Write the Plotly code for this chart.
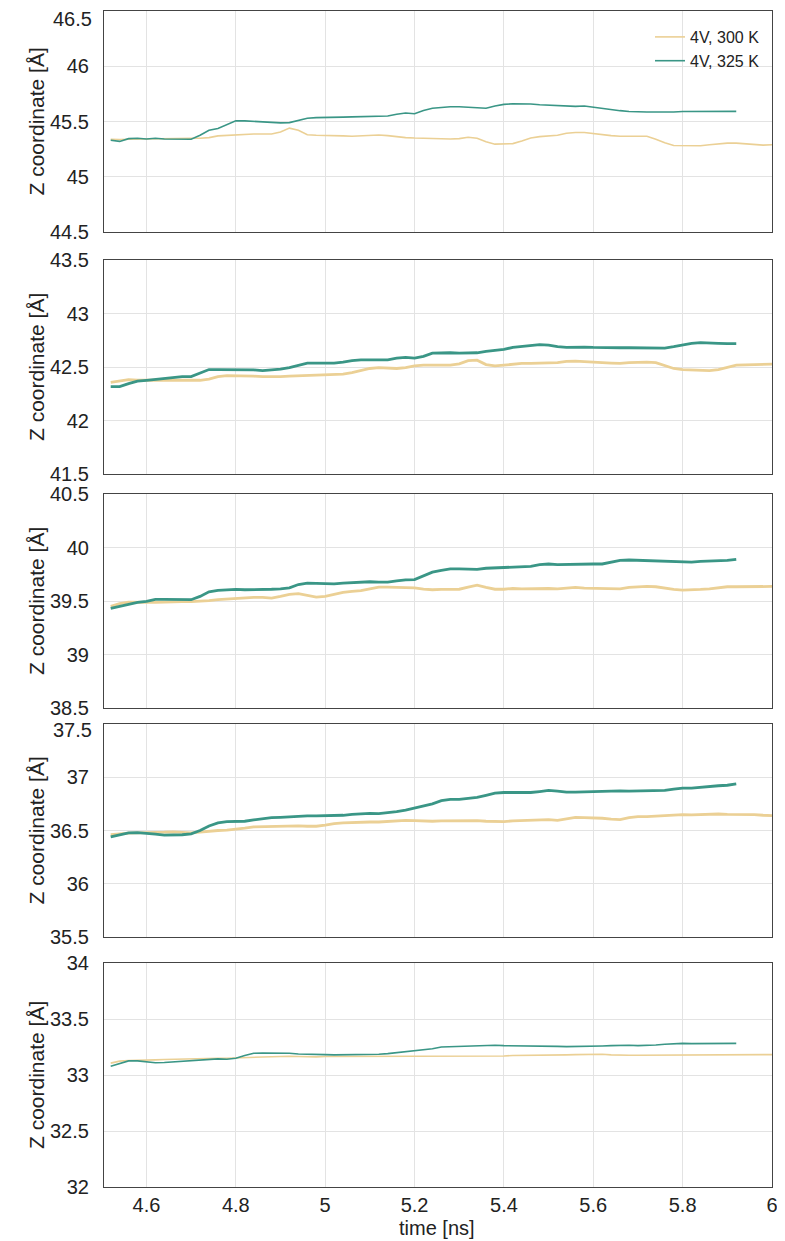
import plotly.graph_objects as go

# ---------------- data ----------------
time_300 = [4.52, 4.54, 4.56, 4.58, 4.60, 4.62, 4.64, 4.66, 4.68, 4.70,
            4.72, 4.74, 4.76, 4.78, 4.80, 4.82, 4.84, 4.86, 4.88, 4.90,
            4.92, 4.94, 4.96, 4.98, 5.00, 5.02, 5.04, 5.06, 5.08, 5.10,
            5.12, 5.14, 5.16, 5.18, 5.20, 5.22, 5.24, 5.26, 5.28, 5.30,
            5.32, 5.34, 5.36, 5.38, 5.40, 5.42, 5.44, 5.46, 5.48, 5.50,
            5.52, 5.54, 5.56, 5.58, 5.60, 5.62, 5.64, 5.66, 5.68, 5.70,
            5.72, 5.74, 5.76, 5.78, 5.80, 5.82, 5.84, 5.86, 5.88, 5.90,
            5.92, 5.94, 5.96, 5.98, 6.00]
time_325 = time_300[:71]

p1_300 = [45.340, 45.336, 45.340, 45.342, 45.340, 45.345, 45.345, 45.348, 45.348, 45.348,
          45.348, 45.354, 45.370, 45.375, 45.380, 45.384, 45.387, 45.387, 45.387, 45.405,
          45.440, 45.420, 45.380, 45.375, 45.375, 45.372, 45.370, 45.366, 45.372, 45.378,
          45.378, 45.372, 45.360, 45.354, 45.350, 45.348, 45.345, 45.342, 45.342, 45.345,
          45.357, 45.348, 45.316, 45.295, 45.295, 45.300, 45.324, 45.350, 45.363, 45.366,
          45.375, 45.393, 45.400, 45.400, 45.390, 45.378, 45.372, 45.366, 45.366, 45.370,
          45.366, 45.340, 45.307, 45.283, 45.283, 45.283, 45.280, 45.290, 45.300, 45.304,
          45.304, 45.298, 45.286, 45.286, 45.290]
p1_325 = [45.330, 45.320, 45.345, 45.348, 45.342, 45.348, 45.342, 45.342, 45.340, 45.340,
          45.375, 45.420, 45.437, 45.470, 45.506, 45.506, 45.500, 45.500, 45.494, 45.488,
          45.490, 45.510, 45.530, 45.535, 45.535, 45.540, 45.540, 45.542, 45.545, 45.550,
          45.550, 45.550, 45.565, 45.577, 45.570, 45.600, 45.620, 45.630, 45.634, 45.634,
          45.630, 45.620, 45.620, 45.640, 45.655, 45.660, 45.660, 45.658, 45.652, 45.649,
          45.643, 45.637, 45.637, 45.640, 45.628, 45.620, 45.610, 45.598, 45.590, 45.586,
          45.586, 45.586, 45.583, 45.586, 45.590, 45.590, 45.590, 45.590, 45.590, 45.592,
          45.592]

p2_300 = [42.357, 42.373, 42.382, 42.376, 42.376, 42.380, 42.380, 42.380, 42.380, 42.376,
          42.376, 42.386, 42.410, 42.420, 42.420, 42.417, 42.414, 42.410, 42.407, 42.410,
          42.414, 42.417, 42.420, 42.420, 42.420, 42.423, 42.433, 42.448, 42.470, 42.486,
          42.495, 42.492, 42.486, 42.495, 42.510, 42.517, 42.517, 42.517, 42.517, 42.530,
          42.560, 42.564, 42.523, 42.510, 42.517, 42.530, 42.533, 42.533, 42.536, 42.536,
          42.540, 42.552, 42.555, 42.550, 42.542, 42.540, 42.536, 42.533, 42.540, 42.542,
          42.545, 42.540, 42.510, 42.486, 42.476, 42.473, 42.470, 42.467, 42.476, 42.498,
          42.517, 42.520, 42.523, 42.527, 42.527]
p2_325 = [42.317, 42.317, 42.345, 42.367, 42.376, 42.386, 42.392, 42.400, 42.410, 42.410,
          42.440, 42.476, 42.476, 42.476, 42.480, 42.476, 42.473, 42.467, 42.470, 42.480,
          42.495, 42.517, 42.536, 42.536, 42.536, 42.536, 42.545, 42.560, 42.567, 42.567,
          42.560, 42.567, 42.583, 42.590, 42.583, 42.600, 42.630, 42.633, 42.633, 42.630,
          42.630, 42.633, 42.646, 42.655, 42.665, 42.683, 42.693, 42.700, 42.710, 42.705,
          42.690, 42.683, 42.686, 42.686, 42.683, 42.680, 42.680, 42.680, 42.680, 42.680,
          42.677, 42.677, 42.677, 42.690, 42.708, 42.720, 42.727, 42.727, 42.720, 42.718,
          42.718]

p3_300 = [39.450, 39.475, 39.490, 39.488, 39.485, 39.488, 39.490, 39.494, 39.494, 39.494,
          39.497, 39.503, 39.512, 39.518, 39.520, 39.527, 39.534, 39.534, 39.527, 39.543,
          39.562, 39.568, 39.550, 39.537, 39.543, 39.562, 39.580, 39.590, 39.596, 39.614,
          39.630, 39.630, 39.630, 39.630, 39.623, 39.610, 39.605, 39.608, 39.608, 39.610,
          39.630, 39.648, 39.627, 39.610, 39.610, 39.617, 39.614, 39.617, 39.620, 39.617,
          39.614, 39.617, 39.627, 39.620, 39.617, 39.614, 39.610, 39.614, 39.627, 39.633,
          39.636, 39.633, 39.620, 39.608, 39.602, 39.602, 39.608, 39.614, 39.627, 39.633,
          39.633, 39.633, 39.633, 39.633, 39.636]
p3_325 = [39.432, 39.450, 39.475, 39.488, 39.497, 39.515, 39.515, 39.515, 39.512, 39.512,
          39.543, 39.586, 39.600, 39.605, 39.608, 39.605, 39.605, 39.608, 39.610, 39.614,
          39.623, 39.654, 39.667, 39.664, 39.660, 39.660, 39.667, 39.673, 39.676, 39.680,
          39.676, 39.676, 39.688, 39.698, 39.700, 39.735, 39.770, 39.787, 39.800, 39.800,
          39.796, 39.796, 39.806, 39.810, 39.815, 39.815, 39.818, 39.824, 39.840, 39.846,
          39.840, 39.843, 39.846, 39.846, 39.846, 39.846, 39.864, 39.880, 39.883, 39.880,
          39.873, 39.870, 39.867, 39.864, 39.864, 39.864, 39.870, 39.873, 39.873, 39.880,
          39.890]

p4_300 = [36.460, 36.469, 36.475, 36.478, 36.478, 36.480, 36.484, 36.488, 36.480, 36.478,
          36.484, 36.494, 36.500, 36.503, 36.509, 36.522, 36.534, 36.537, 36.537, 36.540,
          36.543, 36.543, 36.540, 36.540, 36.550, 36.565, 36.571, 36.575, 36.578, 36.580,
          36.580, 36.587, 36.593, 36.596, 36.593, 36.587, 36.587, 36.590, 36.590, 36.590,
          36.596, 36.593, 36.587, 36.584, 36.584, 36.590, 36.593, 36.600, 36.602, 36.602,
          36.596, 36.608, 36.624, 36.620, 36.618, 36.615, 36.606, 36.602, 36.620, 36.630,
          36.630, 36.634, 36.637, 36.643, 36.650, 36.646, 36.650, 36.652, 36.655, 36.652,
          36.652, 36.652, 36.650, 36.643, 36.640]
p4_325 = [36.441, 36.456, 36.478, 36.480, 36.475, 36.466, 36.456, 36.456, 36.460, 36.469,
          36.500, 36.543, 36.571, 36.584, 36.587, 36.587, 36.600, 36.612, 36.620, 36.624,
          36.630, 36.637, 36.637, 36.637, 36.637, 36.637, 36.643, 36.652, 36.658, 36.660,
          36.658, 36.665, 36.677, 36.692, 36.710, 36.727, 36.750, 36.780, 36.792, 36.792,
          36.798, 36.810, 36.830, 36.850, 36.857, 36.857, 36.857, 36.857, 36.866, 36.876,
          36.870, 36.860, 36.860, 36.863, 36.866, 36.866, 36.870, 36.873, 36.870, 36.870,
          36.870, 36.870, 36.876, 36.888, 36.898, 36.898, 36.907, 36.916, 36.920, 36.925,
          36.938]

p5_300 = [33.106, 33.124, 33.130, 33.130, 33.132, 33.135, 33.138, 33.141, 33.141, 33.144,
          33.147, 33.150, 33.150, 33.150, 33.153, 33.159, 33.162, 33.159, 33.162, 33.165,
          33.168, 33.165, 33.162, 33.162, 33.165, 33.165, 33.168, 33.168, 33.168, 33.168,
          33.168, 33.168, 33.168, 33.168, 33.168, 33.168, 33.168, 33.168, 33.168, 33.168,
          33.170, 33.170, 33.170, 33.170, 33.170, 33.174, 33.174, 33.176, 33.176, 33.176,
          33.176, 33.180, 33.182, 33.185, 33.188, 33.185, 33.180, 33.176, 33.176, 33.176,
          33.176, 33.176, 33.176, 33.176, 33.176, 33.176, 33.176, 33.180, 33.180, 33.180,
          33.180, 33.180, 33.182, 33.182, 33.182]
p5_325 = [33.079, 33.103, 33.126, 33.126, 33.115, 33.109, 33.112, 33.118, 33.120, 33.126,
          33.135, 33.144, 33.144, 33.141, 33.150, 33.174, 33.194, 33.197, 33.197, 33.197,
          33.194, 33.188, 33.188, 33.185, 33.182, 33.180, 33.180, 33.182, 33.182, 33.185,
          33.185, 33.191, 33.200, 33.212, 33.215, 33.224, 33.235, 33.250, 33.253, 33.256,
          33.262, 33.265, 33.265, 33.265, 33.262, 33.262, 33.259, 33.259, 33.262, 33.262,
          33.256, 33.253, 33.253, 33.253, 33.256, 33.259, 33.262, 33.265, 33.265, 33.262,
          33.262, 33.268, 33.274, 33.280, 33.282, 33.280, 33.280, 33.280, 33.280, 33.282,
          33.282]

series_300 = [p1_300, p2_300, p3_300, p4_300, p5_300]
series_325 = [p1_325, p2_325, p3_325, p4_325, p5_325]
y_ranges = [[44.5, 46.5], [41.5, 43.5], [38.5, 40.5], [35.5, 37.5], [32.0, 34.0]]
y_ticks = [[44.5, 45.0, 45.5, 46.0, 46.5], [41.5, 42.0, 42.5, 43.0, 43.5],
           [38.5, 39.0, 39.5, 40.0, 40.5], [35.5, 36.0, 36.5, 37.0, 37.5],
           [32.0, 32.5, 33.0, 33.5, 34.0]]
y_ticklabels = [["44.5", "45", "45.5", "46", "46.5"], ["41.5", "42", "42.5", "43", "43.5"],
                ["38.5", "39", "39.5", "40", "40.5"], ["35.5", "36", "36.5", "37", "37.5"],
                ["32", "32.5", "33", "33.5", "34"]]
x_ticks = [4.6, 4.8, 5.0, 5.2, 5.4, 5.6, 5.8, 6.0]
x_ticklabels = ["4.6", "4.8", "5", "5.2", "5.4", "5.6", "5.8", "6"]
legend_names = ["4V, 300 K", "4V, 325 K"]

# ---------------- layout constants ----------------
# the page body has an 8px default margin: lay out in page pixels, shift by OFF
OFF = 8
W, H = 785 - OFF, 1241 - OFF
plot_left, plot_right = 104, 772          # page pixels
plot_top, plot_bottom = 11, 1187          # page pixels
L = plot_left - OFF
R = W - (plot_right - OFF)
T = plot_top - OFF
B = H - (plot_bottom - OFF)
panel_px = [(11, 232), (260, 474), (494, 708), (724, 937), (963, 1187)]
# panels whose top tick label is drawn nudged down (page row of its centre)
nudged_top_label = {0: 19, 3: 730}
line_w = [1.6, 2.8, 2.8, 2.8, 1.6]
plot_h = plot_bottom - plot_top
plot_w = plot_right - plot_left

C300 = "#ebd095"
C325 = "#3a9686"
FONT = "Liberation Sans Narrow, Liberation Sans, Arial, sans-serif"


def py(px):
    """page pixel row -> paper coordinate"""
    return (plot_bottom - px) / plot_h


def pxx(px):
    """page pixel column -> paper coordinate"""
    return (px - plot_left) / plot_w


fig = go.Figure()
for k in range(5):
    ax = "" if k == 0 else str(k + 1)
    fig.add_trace(go.Scatter(x=time_300, y=series_300[k], mode="lines",
                             line=dict(color=C300, width=line_w[k]),
                             name=legend_names[0], showlegend=(k == 0),
                             xaxis="x" + ax, yaxis="y" + ax))
    fig.add_trace(go.Scatter(x=time_325, y=series_325[k], mode="lines",
                             line=dict(color=C325, width=line_w[k]),
                             name=legend_names[1], showlegend=(k == 0),
                             xaxis="x" + ax, yaxis="y" + ax))

layout = dict(width=W, height=H, margin=dict(l=L, r=R, t=T, b=B, autoexpand=False),
              paper_bgcolor="white", plot_bgcolor="white",
              font=dict(family=FONT, color="#222", size=20),
              legend=dict(x=pxx(765), xanchor="right", y=py(20), yanchor="top",
                          bgcolor="rgba(0,0,0,0)",
                          font=dict(size=16, family="Liberation Sans, Arial"),
                          tracegroupgap=0, itemwidth=30),
              annotations=[])

for k in range(5):
    ax = "" if k == 0 else str(k + 1)
    top, bot = panel_px[k]
    dom = [py(bot), py(top)]
    tv, tt = y_ticks[k], y_ticklabels[k]
    if k in nudged_top_label:
        tv, tt = tv[:-1], tt[:-1]
        layout["annotations"].append(dict(text=y_ticklabels[k][-1], xref="paper", yref="paper",
                                          x=pxx(94), y=py(nudged_top_label[k]), xanchor="right",
                                          yanchor="middle", showarrow=False,
                                          font=dict(size=20)))
    layout["xaxis" + ax] = dict(domain=[0, 1], range=[4.505, 6.0], anchor="y" + ax,
                                tickvals=x_ticks, ticktext=x_ticklabels,
                                showticklabels=(k == 4), showgrid=True,
                                gridcolor="#e3e3e3", gridwidth=1,
                                showline=True, mirror=True, linecolor="#444", linewidth=1.2,
                                ticks="", zeroline=False, ticklabelstandoff=0,
                                ticklabeloverflow="allow", tickfont=dict(size=20))
    layout["yaxis" + ax] = dict(domain=dom, range=y_ranges[k], anchor="x" + ax,
                                tickvals=tv, ticktext=tt,
                                showgrid=True, gridcolor="#e3e3e3", gridwidth=1,
                                showline=True, mirror=True, linecolor="#444", linewidth=1.2,
                                ticks="", zeroline=False, ticklabelstandoff=10,
                                ticklabeloverflow="allow", tickfont=dict(size=20))
    layout["annotations"].append(dict(text="Z coordinate [Å]", textangle=-90,
                                      xref="paper", yref="paper",
                                      x=pxx(36), y=(dom[0] + dom[1]) / 2,
                                      xanchor="center", yanchor="middle", showarrow=False,
                                      font=dict(size=21, family="Liberation Sans, Arial")))

layout["annotations"].append(dict(text="time [ns]", xref="paper", yref="paper",
                                  x=pxx(437), y=py(1228), xanchor="center",
                                  yanchor="middle", showarrow=False, font=dict(size=20)))

fig.update_layout(**layout)
fig.write_html("out.html")
